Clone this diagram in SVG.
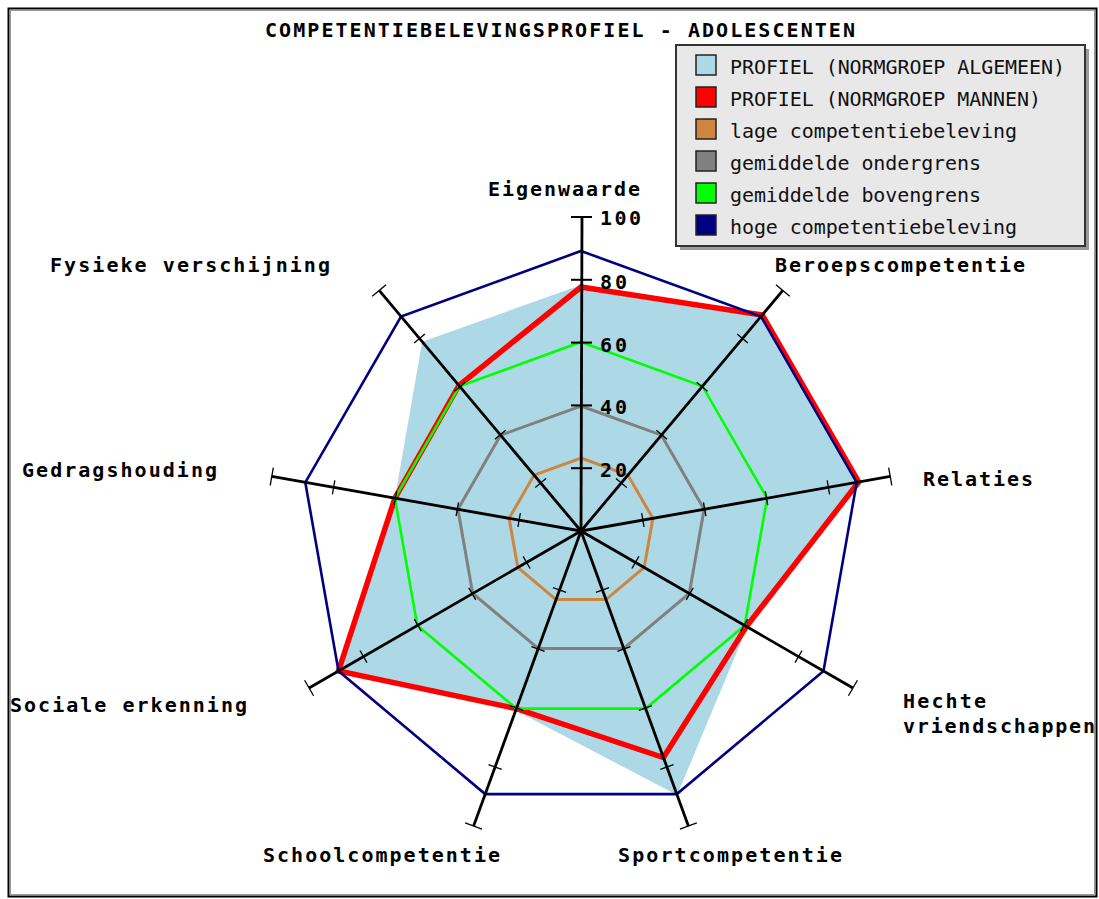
<svg xmlns="http://www.w3.org/2000/svg" width="1099" height="899" viewBox="0 0 1099 899">
<defs>
<style>
.lbl{font-family:"DejaVu Sans Mono","Liberation Mono",monospace;font-weight:bold;font-size:20px;fill:#000}
.leg{font-family:"DejaVu Sans Mono","Liberation Mono",monospace;font-size:20px;fill:#111}
.sw{stroke:#222;stroke-width:1.5}
.ax{stroke:#000;stroke-width:2.8;fill:none}
.tk{stroke:#000;stroke-width:1.3;fill:none}
.ser{fill:none;stroke-linejoin:miter}
</style>
<g id="axisShape">
<line class="ax" x1="0" y1="0" x2="0" y2="-314"/>
<line class="tk" x1="-9" y1="-314" x2="9" y2="-314"/>
<line class="tk" x1="-7" y1="-62.8" x2="7" y2="-62.8"/>
<line class="tk" x1="-7" y1="-125.6" x2="7" y2="-125.6"/>
<line class="tk" x1="-7" y1="-188.4" x2="7" y2="-188.4"/>
<line class="tk" x1="-7" y1="-251.2" x2="7" y2="-251.2"/>
</g>
</defs>
<rect x="0" y="0" width="1099" height="899" fill="#fff"/>
<g id="frame">
<rect x="8.5" y="8.5" width="1088" height="888" fill="none" stroke="#000" stroke-width="2"/>
<rect x="10.5" y="10.5" width="1084" height="884" fill="none" stroke="#999" stroke-width="1"/>
</g>
<text id="title" class="lbl" x="265" y="37" textLength="590" lengthAdjust="spacing">COMPETENTIEBELEVINGSPROFIEL - ADOLESCENTEN</text>
<g id="chart" transform="translate(581,531)">
<polygon id="profiel-algemeen" fill="#add8e6" points="0,-246 181.3,-216 277.7,-49 166.3,96 96.1,264.1 -65.3,179.5 -242.5,140 -186.1,-32.8 -158.8,-189.2"/>
<polygon id="profiel-mannen" class="ser" stroke="#ff0000" stroke-width="5.5" points="0,-244 181.3,-216 277.7,-49 165.4,95.5 82.4,226.5 -64.6,177.6 -242.5,140 -186.1,-32.8 -122.1,-145.5"/>
<polygon id="lage" class="ser" stroke="#cd853f" stroke-width="3" points="0,-73 46.9,-55.9 71.9,-12.7 63.2,36.5 25,68.6 -25,68.6 -63.2,36.5 -71.9,-12.7 -46.9,-55.9"/>
<polygon id="ondergrens" class="ser" stroke="#808080" stroke-width="3" points="0,-125 80.4,-95.8 123.1,-21.7 108.3,62.5 42.8,117.5 -42.8,117.5 -108.3,62.5 -123.1,-21.7 -80.4,-95.8"/>
<polygon id="bovengrens" class="ser" stroke="#00ff00" stroke-width="2.6" points="0,-189 121.5,-144.8 186.1,-32.8 163.7,94.5 64.6,177.6 -64.6,177.6 -163.7,94.5 -186.1,-32.8 -121.5,-144.8"/>
<polygon id="hoge" class="ser" stroke="#000080" stroke-width="2.6" points="0,-280 180,-214.5 275.7,-48.6 242.5,140 95.8,263.1 -95.8,263.1 -242.5,140 -275.7,-48.6 -180,-214.5"/>
<g id="axes">
<g id="axis-eigenwaarde">
<line class="ax" x1="0" y1="0" x2="1" y2="-314"/>
<line stroke="#000" stroke-width="2" x1="-10" y1="-314" x2="11" y2="-314"/>
<line stroke="#000" stroke-width="2" x1="-10" y1="-251.2" x2="11" y2="-251.2"/>
<line stroke="#000" stroke-width="2" x1="-10" y1="-188.4" x2="11" y2="-188.4"/>
<line stroke="#000" stroke-width="2" x1="-10" y1="-125.6" x2="11" y2="-125.6"/>
<line stroke="#000" stroke-width="2" x1="-10" y1="-62.8" x2="11" y2="-62.8"/>
</g>
<use id="axis-beroeps" href="#axisShape" transform="rotate(40)"/>
<use id="axis-relaties" href="#axisShape" transform="rotate(80)"/>
<use id="axis-hechte" href="#axisShape" transform="rotate(120)"/>
<use id="axis-sport" href="#axisShape" transform="rotate(160)"/>
<use id="axis-school" href="#axisShape" transform="rotate(200)"/>
<use id="axis-sociale" href="#axisShape" transform="rotate(240)"/>
<use id="axis-gedrag" href="#axisShape" transform="rotate(280)"/>
<use id="axis-fysieke" href="#axisShape" transform="rotate(320)"/>
</g>
</g>
<g id="scale">
<text class="lbl" x="600" y="225" textLength="41" lengthAdjust="spacing">100</text>
<text class="lbl" x="600" y="289" textLength="27" lengthAdjust="spacing">80</text>
<text class="lbl" x="600" y="352" textLength="27" lengthAdjust="spacing">60</text>
<text class="lbl" x="600" y="414" textLength="27" lengthAdjust="spacing">40</text>
<text class="lbl" x="600" y="477" textLength="27" lengthAdjust="spacing">20</text>
</g>
<g id="labels">
<text id="lbl-eigenwaarde" class="lbl" x="488" y="196" textLength="152" lengthAdjust="spacing">Eigenwaarde</text>
<text id="lbl-fysieke" class="lbl" x="50" y="272" textLength="280" lengthAdjust="spacing">Fysieke verschijning</text>
<text id="lbl-beroeps" class="lbl" x="775" y="272" textLength="250" lengthAdjust="spacing">Beroepscompetentie</text>
<text id="lbl-gedrag" class="lbl" x="22" y="477" textLength="195" lengthAdjust="spacing">Gedragshouding</text>
<text id="lbl-relaties" class="lbl" x="923" y="486" textLength="110" lengthAdjust="spacing">Relaties</text>
<text id="lbl-hechte" class="lbl" x="903" y="708" textLength="83" lengthAdjust="spacing">Hechte</text>
<text id="lbl-vriendschappen" class="lbl" x="903" y="733" textLength="192" lengthAdjust="spacing">vriendschappen</text>
<text id="lbl-sociale" class="lbl" x="10" y="712" textLength="237" lengthAdjust="spacing">Sociale erkenning</text>
<text id="lbl-school" class="lbl" x="263" y="862" textLength="237" lengthAdjust="spacing">Schoolcompetentie</text>
<text id="lbl-sport" class="lbl" x="618" y="862" textLength="224" lengthAdjust="spacing">Sportcompetentie</text>
</g>
<g id="legend">
<rect x="680" y="49" width="409" height="201" fill="#9a9a9a"/>
<rect x="676" y="45" width="409" height="201" fill="#e8e8e8" stroke="#333" stroke-width="2"/>
<rect class="sw" x="696" y="55" width="20" height="20" fill="#add8e6"/>
<rect class="sw" x="696" y="87" width="20" height="20" fill="#ff0000"/>
<rect class="sw" x="696" y="119" width="20" height="20" fill="#cd853f"/>
<rect class="sw" x="696" y="151" width="20" height="20" fill="#808080"/>
<rect class="sw" x="696" y="183" width="20" height="20" fill="#00ff00"/>
<rect class="sw" x="696" y="215" width="20" height="20" fill="#000080"/>
<text class="leg" x="730" y="74" textLength="335" lengthAdjust="spacing">PROFIEL (NORMGROEP ALGEMEEN)</text>
<text class="leg" x="730" y="106" textLength="311" lengthAdjust="spacing">PROFIEL (NORMGROEP MANNEN)</text>
<text class="leg" x="730" y="138" textLength="287" lengthAdjust="spacing">lage competentiebeleving</text>
<text class="leg" x="730" y="170" textLength="251" lengthAdjust="spacing">gemiddelde ondergrens</text>
<text class="leg" x="730" y="202" textLength="251" lengthAdjust="spacing">gemiddelde bovengrens</text>
<text class="leg" x="730" y="234" textLength="287" lengthAdjust="spacing">hoge competentiebeleving</text>
</g>
</svg>
